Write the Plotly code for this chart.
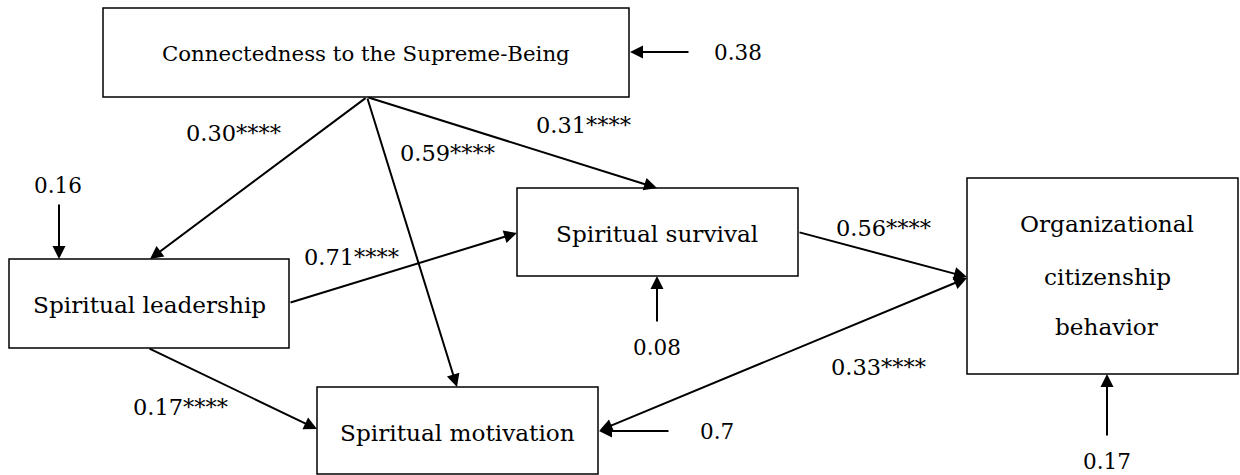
import plotly.graph_objects as go

# ---------------- data ----------------
node_ids = ["CSB", "SL", "SS", "SM", "OCB"]
node_labels = [
    ["Connectedness to the Supreme-Being"],
    ["Spiritual leadership"],
    ["Spiritual survival"],
    ["Spiritual motivation"],
    ["Organizational", "citizenship", "behavior"],
]
path_from = ["CSB", "CSB", "CSB", "SL", "SL", "SS", "SM"]
path_to = ["SL", "SM", "SS", "SS", "SM", "OCB", "OCB"]
path_coef = ["0.30", "0.59", "0.31", "0.71", "0.17", "0.56", "0.33"]
path_sig = ["****"] * 7
residual_nodes = ["CSB", "SL", "SS", "SM", "OCB"]
residual_vals = ["0.38", "0.16", "0.08", "0.7", "0.17"]

# ---------------- layout (pixel space) ----------------
boxes = {  # x0, y0, x1, y1
    "CSB": (103, 8, 629, 97),
    "SL": (9, 259, 289, 348),
    "SS": (517, 188, 798, 276),
    "SM": (317, 387, 598, 474),
    "OCB": (967, 178, 1238, 374),
}
label_font = {"CSB": 21.3, "SL": 23.2, "SS": 23.2, "SM": 23.2, "OCB": 23.2}
label_pos = {
    "CSB": [(366, 53)],
    "SL": [(149, 304)],
    "SS": [(657, 233)],
    "SM": [(457, 432)],
    "OCB": [(1107, 223), (1107, 276), (1107, 326)],
}
# path geometry: (tail x, tail y, head x, head y), label center, double-headed?
path_geom = [
    ((367, 97, 150, 259), (233, 133), False),
    ((367, 97, 457, 387), (447, 153), False),
    ((367, 97, 657, 188), (583, 125), False),
    ((289, 303, 517, 233), (351, 257), False),
    ((148, 348, 317, 429), (180, 407), False),
    ((798, 232, 967, 277), (883, 228), False),
    ((598, 431, 967, 278), (878, 367), True),
]
residual_geom = {
    "CSB": ((690, 52, 630, 52), (738, 52)),
    "SL": ((59, 203, 59, 259), (58, 185)),
    "SS": ((657, 323, 657, 276), (657, 347)),
    "SM": ((670, 431, 599, 431), (717, 431)),
    "OCB": ((1107, 437, 1107, 374), (1107, 461)),
}

FONT = "DejaVu Serif"
COEF_SIZE = 22.5
RES_SIZE = 21.5

fig = go.Figure()
fig.add_trace(go.Scatter(x=[0, 1240], y=[0, 475], mode="markers",
                         marker=dict(opacity=0), hoverinfo="skip", showlegend=False))

shapes = []
annotations = []

for nid, lines in zip(node_ids, node_labels):
    x0, y0, x1, y1 = boxes[nid]
    shapes.append(dict(type="rect", xref="x", yref="y", x0=x0, y0=y0, x1=x1, y1=y1,
                       line=dict(color="black", width=1.5), fillcolor="rgba(0,0,0,0)"))
    for line, (tx, ty) in zip(lines, label_pos[nid]):
        annotations.append(dict(x=tx, y=ty, xref="x", yref="y", text=line, showarrow=False,
                                font=dict(family=FONT, size=label_font[nid], color="black"),
                                xanchor="center", yanchor="middle"))


def arrow(tx, ty, hx, hy, both=False):
    return dict(x=hx, y=hy, ax=tx, ay=ty, xref="x", yref="y", axref="x", ayref="y",
                text="", showarrow=True, arrowhead=2, arrowsize=1.3, arrowwidth=2,
                arrowcolor="black", standoff=0, startstandoff=0,
                startarrowhead=2, startarrowsize=1.3,
                arrowside="end+start" if both else "end")


for f, t, c, s, (seg, lab, both) in zip(path_from, path_to, path_coef, path_sig, path_geom):
    annotations.append(arrow(*seg, both=both))
    annotations.append(dict(x=lab[0], y=lab[1], xref="x", yref="y", text=c + s,
                            showarrow=False, font=dict(family=FONT, size=COEF_SIZE, color="black"),
                            xanchor="center", yanchor="middle"))

for nid, val in zip(residual_nodes, residual_vals):
    seg, lab = residual_geom[nid]
    annotations.append(arrow(*seg))
    annotations.append(dict(x=lab[0], y=lab[1], xref="x", yref="y", text=val,
                            showarrow=False, font=dict(family=FONT, size=RES_SIZE, color="black"),
                            xanchor="center", yanchor="middle"))

fig.update_layout(
    width=1240, height=475, margin=dict(l=0, r=0, t=0, b=0),
    paper_bgcolor="white", plot_bgcolor="white",
    font=dict(family=FONT, color="black"),
    xaxis=dict(range=[0, 1240], visible=False, fixedrange=True),
    yaxis=dict(range=[475, 0], visible=False, fixedrange=True),
    shapes=shapes, annotations=annotations, showlegend=False,
)

fig.write_html("out.html", config={"displayModeBar": False},
               post_script="document.body.style.margin='0';document.body.style.overflow='hidden';")
